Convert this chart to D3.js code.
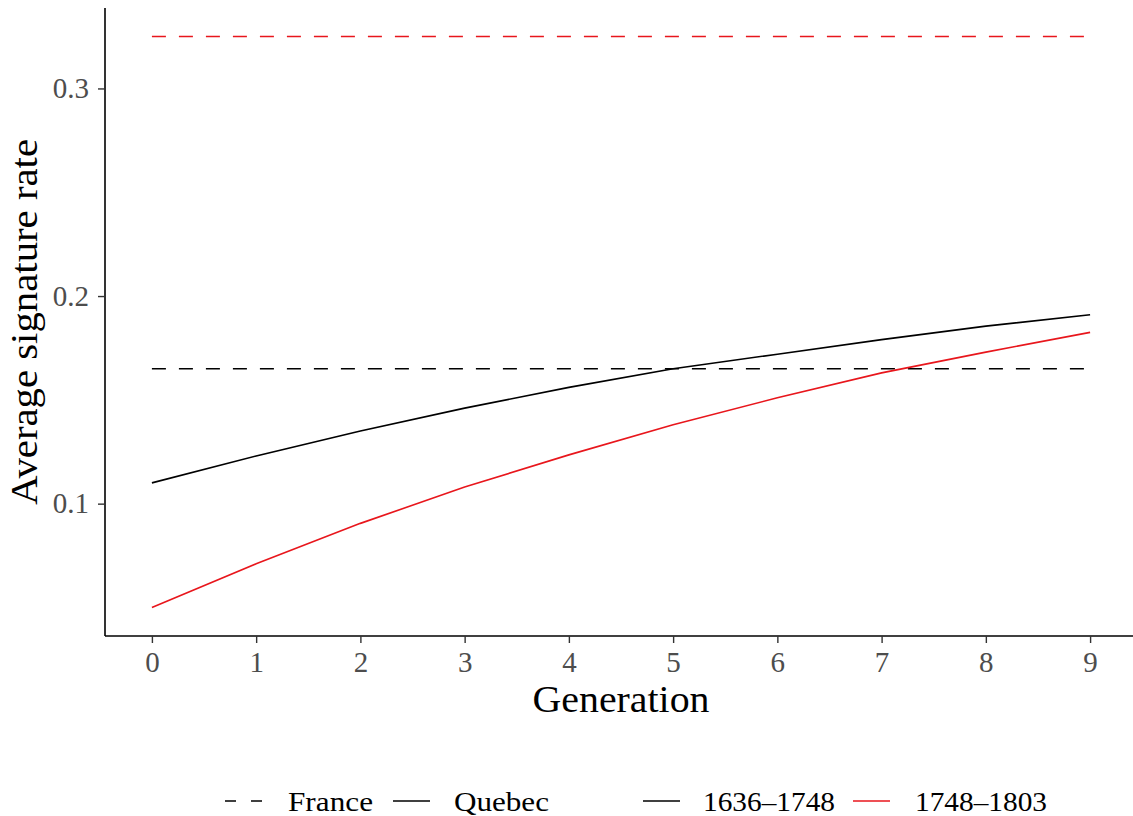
<!DOCTYPE html>
<html>
<head>
<meta charset="utf-8">
<script src="https://cdn.jsdelivr.net/npm/d3@7"></script>
<style>
  body { margin: 0; background: #fff; }
  text { font-family: "Liberation Serif", "DejaVu Serif", serif; }
</style>
</head>
<body>
<svg id="chart" width="1133" height="816"></svg>
<script>
// data
const generations = [0, 1, 2, 3, 4, 5, 6, 7, 8, 9];
const quebecEarly = [0.110, 0.123, 0.135, 0.146, 0.156, 0.165, 0.172, 0.179, 0.1855, 0.191];
const quebecLate = [0.050, 0.071, 0.0905, 0.108, 0.1235, 0.138, 0.151, 0.163, 0.173, 0.1825];
const franceEarly = 0.165;
const franceLate = 0.325;
const yTicks = [0.1, 0.2, 0.3];
const periods = ['1636–1748', '1748–1803'];
const periodColors = ['#000000', '#e8161c'];

const svg = d3.select('#chart');
const margin = { top: 8, right: 1, bottom: 180, left: 105 };

// ggplot-ish 5% expansion
const x = d3.scaleLinear().domain([-0.45, 9.45]).range([margin.left, 1137]);
const y = d3.scaleLinear().domain([0.03625, 0.33875]).range([636, margin.top]);

const g = svg.append('g');

// france reference lines
const franceRows = [
  { value: franceEarly, color: periodColors[0] },
  { value: franceLate, color: periodColors[1] },
];
g.selectAll('line.france')
  .data(franceRows)
  .enter().append('line')
  .attr('class', 'france')
  .attr('x1', x(0)).attr('x2', x(9))
  .attr('y1', d => y(d.value)).attr('y2', d => y(d.value))
  .style('stroke', d => d.color)
  .style('stroke-width', 1.6)
  .style('stroke-dasharray', '14 13');

// quebec curves
const line = d3.line()
  .x((d, i) => x(generations[i]))
  .y(d => y(d));
g.selectAll('path.quebec')
  .data([quebecEarly, quebecLate])
  .enter().append('path')
  .attr('class', 'quebec')
  .attr('d', line)
  .style('fill', 'none')
  .style('stroke', (d, i) => periodColors[i])
  .style('stroke-width', 1.6);

// axes
const xAxis = svg.append('g')
  .attr('transform', `translate(0,636)`)
  .call(d3.axisBottom(x).tickValues(generations).tickSize(7).tickPadding(8).tickFormat(d3.format('d')));
const yAxis = svg.append('g')
  .attr('transform', `translate(${margin.left},0)`)
  .call(d3.axisLeft(y).tickValues(yTicks).tickSize(7).tickPadding(9).tickFormat(d3.format('.1f')));

[xAxis, yAxis].forEach(ax => {
  ax.select('.domain').style('stroke', '#000').style('stroke-width', 1.6);
  ax.selectAll('.tick line').style('stroke', '#333').style('stroke-width', 1.4);
  ax.selectAll('.tick text')
    .style('font-family', '"Liberation Serif", serif')
    .style('font-size', '29px')
    .style('fill', '#4d4d4d');
});
xAxis.select('.domain').attr('d', `M${margin.left},0H1133`);
yAxis.select('.domain').attr('d', `M0,8V636`);

// axis titles
svg.append('text')
  .attr('x', 621).attr('y', 712)
  .attr('text-anchor', 'middle')
  .attr('textLength', 177).attr('lengthAdjust', 'spacingAndGlyphs')
  .style('font-size', '37px')
  .text('Generation');

svg.append('text')
  .attr('transform', 'translate(37,322) rotate(-90)')
  .attr('text-anchor', 'middle')
  .attr('textLength', 366).attr('lengthAdjust', 'spacingAndGlyphs')
  .style('font-size', '37px')
  .text('Average signature rate');

// legend
const legendY = 801;
const countryKeys = [
  { label: 'France', dash: '11 15', x: 225, tx: 288, len: 85 },
  { label: 'Quebec', dash: null, x: 393, tx: 454, len: 95 },
];
const periodKeys = periods.map((p, i) => ({
  label: p, color: periodColors[i], x: [643, 853][i], tx: [703, 915][i], len: 132,
}));

const leg = svg.append('g');
const addKey = (k, color) => {
  leg.append('line')
    .attr('x1', k.x).attr('x2', k.x + 37)
    .attr('y1', legendY).attr('y2', legendY)
    .style('stroke', color).style('stroke-width', 1.6)
    .style('stroke-dasharray', k.dash || null);
  leg.append('text')
    .attr('x', k.tx).attr('y', legendY + 10)
    .attr('textLength', k.len).attr('lengthAdjust', 'spacingAndGlyphs')
    .style('font-size', '28px')
    .text(k.label);
};
countryKeys.forEach(k => addKey(k, '#000'));
periodKeys.forEach(k => addKey(k, k.color));
</script>
</body>
</html>
